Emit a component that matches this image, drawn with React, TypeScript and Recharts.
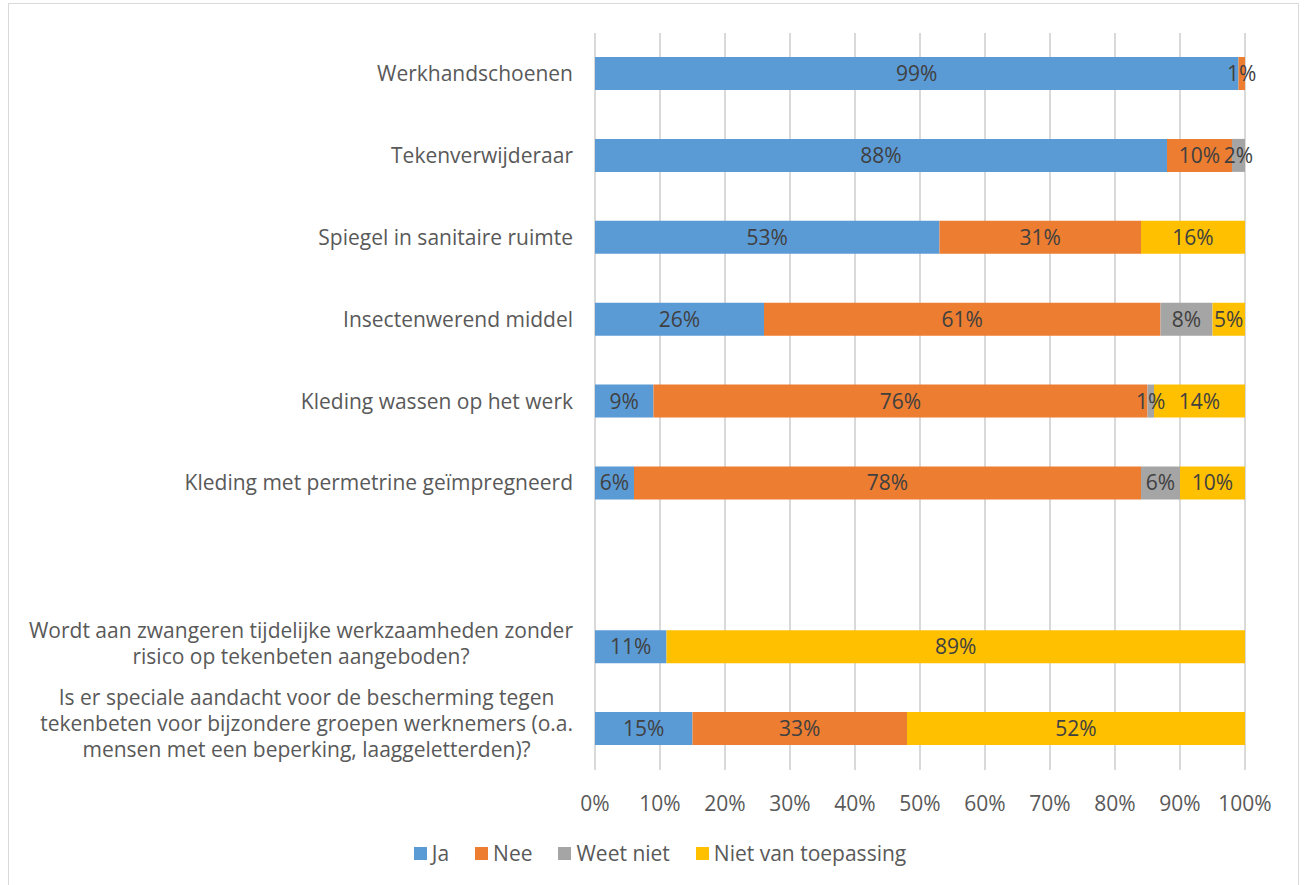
import React from "react";
import {
  BarChart,
  Bar,
  XAxis,
  YAxis,
  CartesianGrid,
  Legend,
  LabelList,
} from "recharts";

const C_TEXT = "#595959";
const C_LABEL = "#404040";
const C_GRID = "#d9d9d9";
const FONT = "'Open Sans', Lato, sans-serif";
const FONT_SIZE = 21;

const categories = [
  "Werkhandschoenen",
  "Tekenverwijderaar",
  "Spiegel in sanitaire ruimte",
  "Insectenwerend middel",
  "Kleding wassen op het werk",
  "Kleding met permetrine geïmpregneerd",
  "",
  "Wordt aan zwangeren tijdelijke werkzaamheden zonder\nrisico op tekenbeten aangeboden?",
  "Is er speciale aandacht voor de bescherming tegen\ntekenbeten voor bijzondere groepen werknemers (o.a.\nmensen met een beperking, laaggeletterden)?",
];

const ja = [99, 88, 53, 26, 9, 6, 0, 11, 15];
const nee = [1, 10, 31, 61, 76, 78, 0, 0, 33];
const weetNiet = [0, 2, 0, 8, 1, 6, 0, 0, 0];
const nvt = [0, 0, 16, 5, 14, 10, 0, 89, 52];

const xTicks = [0, 10, 20, 30, 40, 50, 60, 70, 80, 90, 100];

const series = [
  { key: "ja", name: "Ja", color: "#5b9bd5" },
  { key: "nee", name: "Nee", color: "#ed7d31" },
  { key: "weetNiet", name: "Weet niet", color: "#a5a5a5" },
  { key: "nvt", name: "Niet van toepassing", color: "#ffc000" },
];

const data = categories.map((name, i) => ({
  name,
  ja: ja[i],
  nee: nee[i],
  weetNiet: weetNiet[i],
  nvt: nvt[i],
}));

let ctx: CanvasRenderingContext2D | null = null;
function textWidth(s: string) {
  if (!ctx) ctx = document.createElement("canvas").getContext("2d");
  if (!ctx) return s.length * 10;
  ctx.font = `${FONT_SIZE}px ${FONT}`;
  return ctx.measureText(s).width;
}

// multi-line labels are centred on their widest line, single ones end at the axis
function CategoryTick(props: any) {
  const { x, y, payload } = props;
  const lines: string[] = String(payload.value).split("\n");
  const lineH = 26;
  const startDy = -((lines.length - 1) / 2) * lineH;
  if (lines.length === 1) {
    return (
      <text x={x} y={y} dy={7} textAnchor="end" fill={C_TEXT} fontSize={FONT_SIZE} fontFamily={FONT}>
        {lines[0]}
      </text>
    );
  }
  const widest = Math.max(...lines.map(textWidth));
  const cx = x - widest / 2;
  const shift = lines.length > 2 ? 2 : 4;
  return (
    <text x={cx} y={y} textAnchor="middle" fill={C_TEXT} fontSize={FONT_SIZE} fontFamily={FONT}>
      {lines.map((l, i) => (
        <tspan key={i} x={cx} dy={i === 0 ? startDy + shift : lineH}>
          {l}
        </tspan>
      ))}
    </text>
  );
}

function LegendContent() {
  return (
    <div
      style={{
        display: "flex",
        justifyContent: "center",
        fontFamily: FONT,
        fontSize: FONT_SIZE,
        color: C_TEXT,
        paddingTop: 21,
        paddingLeft: 66,
      }}
    >
      {series.map((s) => (
        <div key={s.key} style={{ display: "flex", alignItems: "center", margin: "0 13px" }}>
          <span style={{ width: 13, height: 13, background: s.color, marginRight: 5 }} />
          <span>{s.name}</span>
        </div>
      ))}
    </div>
  );
}

const pct = (v: any) => (v ? `${v}%` : "");

export default function App() {
  return (
    <div
      style={{
        position: "absolute",
        left: 8,
        top: 3,
        width: 1291,
        height: 900,
        border: `1px solid ${C_GRID}`,
        boxSizing: "border-box",
        background: "#fff",
      }}
    >
      <BarChart
        width={1290}
        height={880}
        data={data}
        layout="vertical"
        barSize={33}
        margin={{ top: 29, right: 54, bottom: 0, left: 0 }}
      >
        <CartesianGrid horizontal={false} stroke={C_GRID} strokeWidth={2} />
        <XAxis
          type="number"
          domain={[0, 100]}
          ticks={xTicks}
          tickFormatter={(v) => `${v}%`}
          axisLine={false}
          tickLine={false}
          tickMargin={20}
          height={48}
          tick={{ fill: C_TEXT, fontSize: FONT_SIZE, fontFamily: FONT }}
        />
        <YAxis
          type="category"
          dataKey="name"
          width={586}
          axisLine={false}
          tickLine={false}
          tickSize={0}
          tickMargin={22}
          interval={0}
          tick={<CategoryTick />}
        />
        <Legend
          verticalAlign="bottom"
          height={66}
          content={<LegendContent />}
        />
        {series.map((s) => (
          <Bar key={s.key} dataKey={s.key} name={s.name} stackId="a" fill={s.color} isAnimationActive={false}>
            <LabelList
              dataKey={s.key}
              position="center"
              formatter={pct}
              fill={C_LABEL}
              fontSize={FONT_SIZE}
              fontFamily={FONT}
            />
          </Bar>
        ))}
      </BarChart>
    </div>
  );
}
